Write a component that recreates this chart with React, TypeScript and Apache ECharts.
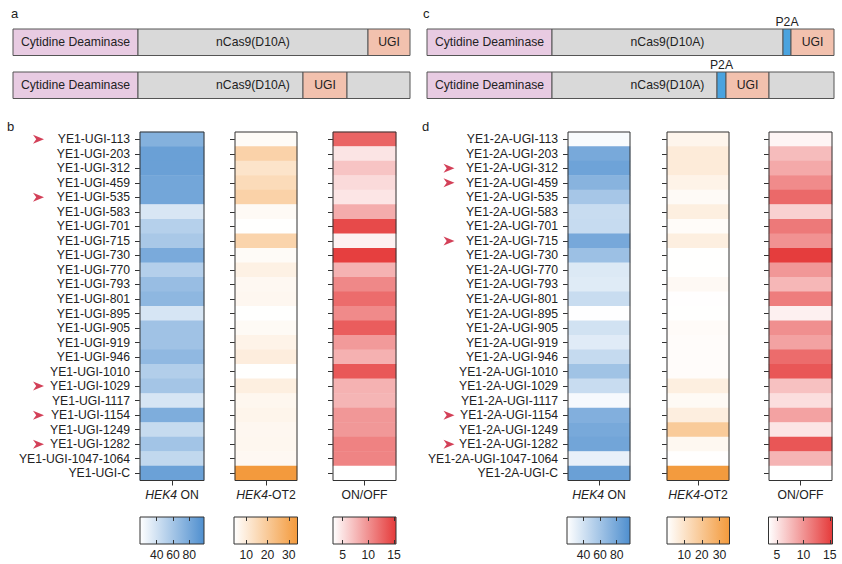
import { useEffect, useRef } from "react";
import * as echarts from "echarts";

// ---------- data ----------
const rowIds = [
  "113", "203", "312", "459", "535", "583", "701", "715", "730", "770", "793", "801",
  "895", "905", "919", "946", "1010", "1029", "1117", "1154", "1249", "1282", "1047-1064", "C",
];
const leftPrefix = "YE1-UGI-";
const rightPrefix = "YE1-2A-UGI-";
const columnNames = ["HEK4 ON", "HEK4-OT2", "ON/OFF"];

const leftOn = [74.5, 86, 86, 82, 82, 37, 52.5, 58, 79, 53, 65.5, 70, 38, 62, 62, 69, 54, 60, 38, 77, 45, 61, 47, 85.5];
const leftOt = [5.5, 17.4, 12.3, 15, 17.6, 5.7, 4.3, 17, 5.5, 8.3, 6.2, 6.5, 4.3, 5.7, 7.8, 9.4, 4.3, 9, 6.7, 7.3, 6.5, 6.7, 6.2, 34];
const leftRatio = [12.8, 4.8, 6.8, 5.4, 4.7, 8.3, 14.4, 4.0, 15.1, 7.9, 10.5, 12.3, 10.4, 13.2, 9.4, 8.0, 13.5, 7.9, 7.7, 9.6, 9.5, 10.9, 10.8, 3.1];

const rightOn = [23, 78.5, 82.5, 71.5, 58.5, 43.8, 44.5, 78.8, 62.6, 35.3, 33.9, 43.8, 20.5, 39.9, 33.5, 45, 61, 43.8, 24, 74, 78.5, 81, 30, 84.5];
const rightOt = [3.7, 7.1, 7.1, 4.4, 1.8, 5.8, 1.3, 5.8, 0.3, 0.3, 2.2, 0.4, 0.3, 1.5, 1.1, 1.1, 1.1, 5.8, 2, 6.0, 18.6, 2.7, 0.4, 35.3];
const rightRatio = [4.0, 7.5, 8.7, 10.5, 12.6, 6.2, 11.6, 10.1, 15.3, 9.8, 7.8, 11.4, 4.3, 10.3, 9.1, 12.4, 13.7, 7.2, 5.4, 9.1, 5.0, 13.8, 8.0, 3.4];

const leftMarked = ["113", "535", "1029", "1154", "1282"];
const rightMarked = ["312", "459", "715", "1154", "1282"];

const leftRanges = [[19.5, 98], [4.2, 34.1], [3.1, 15.4]];
const rightRanges = [[20.1, 96], [0.2, 35.7], [3.4, 15.5]];

const onTicks = [40, 60, 80];
const otTicks = [10, 20, 30];
const ratioTicks = [5, 10, 15];

// construct domains: [domain, relative length]
const constructA1: [string, number][] = [["cd", 125], ["cas", 230], ["ugi", 42]];
const constructA2: [string, number][] = [["cd", 125], ["cas", 165], ["ugi", 44], ["cas", 63]];
const constructC1: [string, number][] = [["cd", 125], ["cas", 231], ["p2a", 8], ["ugi", 43]];
const constructC2: [string, number][] = [["cd", 125], ["cas", 165], ["p2a", 9], ["ugi", 43], ["cas", 65]];

// ---------- styling ----------
const FONT = "'Liberation Sans', Arial, Helvetica, sans-serif";
const FS = 12.2;
const TEXT = "#222";
const endColors = ["#4f8fcf", "#f39a3c", "#e53a3a"];
const segColors: Record<string, string> = { cd: "#e8cbe2", cas: "#d9d9d9", ugi: "#f2c1ae", p2a: "#4aa3df" };
const segLabels: Record<string, string> = { cd: "Cytidine Deaminase", ugi: "UGI" };

function txt(text: string, x: number, y: number, size = FS, align = "center") {
  return {
    type: "text",
    x,
    y,
    z: 10,
    silent: true,
    style: { text, fill: TEXT, font: `${size}px ${FONT}`, align, verticalAlign: "middle" },
  };
}

function buildConstruct(rows: [string, number][][], x0: number, tops: number[], out: any[]) {
  let casCenter = 0;
  const h = 26.5;
  rows.forEach((segs, ri) => {
    let x = x0;
    const y = tops[ri];
    const labels: any[] = [];
    segs.forEach(([kind, len]) => {
      out.push({
        type: "rect",
        z: 5,
        silent: true,
        shape: { x, y, width: len, height: h },
        style: { fill: segColors[kind], stroke: "#555", lineWidth: 1 },
      });
      if (kind === "cas" && ri === 0 && casCenter === 0) casCenter = x + len / 2;
      if (segLabels[kind]) labels.push(txt(segLabels[kind], x + len / 2, y + h / 2));
      if (kind === "p2a") labels.push(txt("P2A", x + len / 2, y - 7));
      x += len;
    });
    labels.push(txt("nCas9(D10A)", casCenter, y + h / 2));
    out.push(...labels);
  });
}

function buildOption() {
  const panels = [
    {
      prefix: leftPrefix,
      values: [leftOn, leftOt, leftRatio],
      ranges: leftRanges,
      marked: leftMarked,
      cols: [[140, 64], [235, 62], [333, 63]],
      bars: [[140, 64], [234, 63.5], [333, 63]],
      arrowX: 33,
    },
    {
      prefix: rightPrefix,
      values: [rightOn, rightOt, rightRatio],
      ranges: rightRanges,
      marked: rightMarked,
      cols: [[568, 62], [667, 62], [769, 63]],
      bars: [[567, 63], [667, 62.5], [768.5, 64]],
      arrowX: 443.5,
    },
  ];
  const tickSets = [onTicks, otTicks, ratioTicks];

  const grid: any[] = [];
  const xAxis: any[] = [];
  const yAxis: any[] = [];
  const series: any[] = [];
  const visualMap: any[] = [];
  const TOP = 132;
  const HEIGHT = 348.5;

  panels.forEach((p) => {
    const names = rowIds.map((r) => p.prefix + r);
    p.values.forEach((vals, ci) => {
      const gi = grid.length;
      grid.push({
        left: p.cols[ci][0],
        width: p.cols[ci][1],
        top: TOP,
        height: HEIGHT,
        show: true,
        backgroundColor: "transparent",
        borderColor: "#333",
        borderWidth: 1,
        z: 5,
      });
      xAxis.push({
        gridIndex: gi,
        type: "category",
        data: [columnNames[ci]],
        position: "bottom",
        axisLine: { show: false },
        splitLine: { show: false },
        axisTick: { show: true, alignWithLabel: true, length: 5, lineStyle: { color: "#333" } },
        axisLabel: {
          margin: 8,
          fontSize: FS,
          color: TEXT,
          fontFamily: FONT,
          formatter: (v: string) =>
            v === "HEK4 ON" ? "{i|HEK4} ON" : v === "HEK4-OT2" ? "{i|HEK4}-OT2" : v,
          rich: { i: { fontStyle: "italic", fontSize: FS, color: TEXT, fontFamily: FONT } },
        },
      });
      const xi = xAxis.length - 1;
      yAxis.push({
        gridIndex: gi,
        type: "category",
        data: names,
        inverse: true,
        axisLine: { show: false },
        splitLine: { show: false },
        axisTick: { show: true, alignWithLabel: true, interval: 0, length: 5, lineStyle: { color: "#333" } },
        axisLabel: { show: ci === 0, interval: 0, margin: 10, fontSize: FS, color: TEXT, fontFamily: FONT },
      });
      const yi = yAxis.length - 1;
      const si = series.length;
      series.push({
        type: "heatmap",
        xAxisIndex: xi,
        yAxisIndex: yi,
        data: vals.map((v, r) => [0, r, v]),
        itemStyle: { borderWidth: 0 },
        emphasis: { disabled: true },
        silent: true,
      });
      visualMap.push({
        type: "continuous",
        show: false,
        seriesIndex: si,
        dimension: 2,
        min: p.ranges[ci][0],
        max: p.ranges[ci][1],
        inRange: { color: ["#ffffff", endColors[ci]] },
      });
    });

    // colour bars
    p.bars.forEach(([left, width], ci) => {
      const gi = grid.length;
      const [mn, mx] = p.ranges[ci];
      grid.push({
        left,
        width,
        top: 517,
        height: 27,
        show: true,
        backgroundColor: new echarts.graphic.LinearGradient(0, 0, 1, 0, [
          { offset: 0, color: "#ffffff" },
          { offset: 1, color: endColors[ci] },
        ]),
        borderColor: "#333",
        borderWidth: 1,
      });
      xAxis.push({
        gridIndex: gi,
        type: "value",
        min: mn,
        max: mx,
        position: "bottom",
        z: 3,
        axisLine: { show: false },
        splitLine: { show: false },
        axisTick: { show: true, inside: true, length: 4, customValues: tickSets[ci], lineStyle: { color: "#333" } },
        axisLabel: { show: true, customValues: tickSets[ci], margin: 5, fontSize: FS, color: TEXT, fontFamily: FONT },
      });
      xAxis.push({
        gridIndex: gi,
        type: "value",
        min: mn,
        max: mx,
        position: "top",
        z: 3,
        axisLine: { show: false },
        splitLine: { show: false },
        axisTick: { show: true, inside: true, length: 4, customValues: tickSets[ci], lineStyle: { color: "#333" } },
        axisLabel: { show: false },
      });
      yAxis.push({ gridIndex: gi, type: "value", min: 0, max: 1, show: false });
    });

    // marker arrows
    const ag = grid.length;
    grid.push({ left: p.arrowX, width: 11, top: TOP, height: HEIGHT });
    xAxis.push({ gridIndex: ag, type: "value", min: 0, max: 1, show: false });
    const axi = xAxis.length - 1;
    yAxis.push({ gridIndex: ag, type: "category", data: names, inverse: true, show: false });
    const ayi = yAxis.length - 1;
    series.push({
      type: "scatter",
      xAxisIndex: axi,
      yAxisIndex: ayi,
      data: p.marked.map((m) => [0.5, p.prefix + m]),
      symbol: "path://M0,0L12,4.5L0,9L3.5,4.5Z",
      symbolSize: [11, 9],
      itemStyle: { color: "#c8102e" },
      silent: true,
    });
  });

  const elements: any[] = [];
  buildConstruct([constructA1, constructA2], 13, [29, 72], elements);
  buildConstruct([constructC1, constructC2], 427, [29, 72], elements);
  elements.push(txt("a", 11, 13, 13, "left"));
  elements.push(txt("c", 423, 13, 13, "left"));
  elements.push(txt("b", 7, 126, 13, "left"));
  elements.push(txt("d", 422, 126, 13, "left"));

  return {
    animation: false,
    backgroundColor: "#ffffff",
    textStyle: { fontFamily: FONT },
    grid,
    xAxis,
    yAxis,
    visualMap,
    series,
    graphic: { elements },
  };
}

export default function App() {
  const ref = useRef<HTMLDivElement>(null);
  useEffect(() => {
    const chart = echarts.init(ref.current!, null, { renderer: "svg" });
    chart.setOption(buildOption() as any);
    return () => chart.dispose();
  }, []);
  return (
    <div
      ref={ref}
      style={{ position: "fixed", left: 0, top: 0, width: 842, height: 564, background: "#fff" }}
    />
  );
}
